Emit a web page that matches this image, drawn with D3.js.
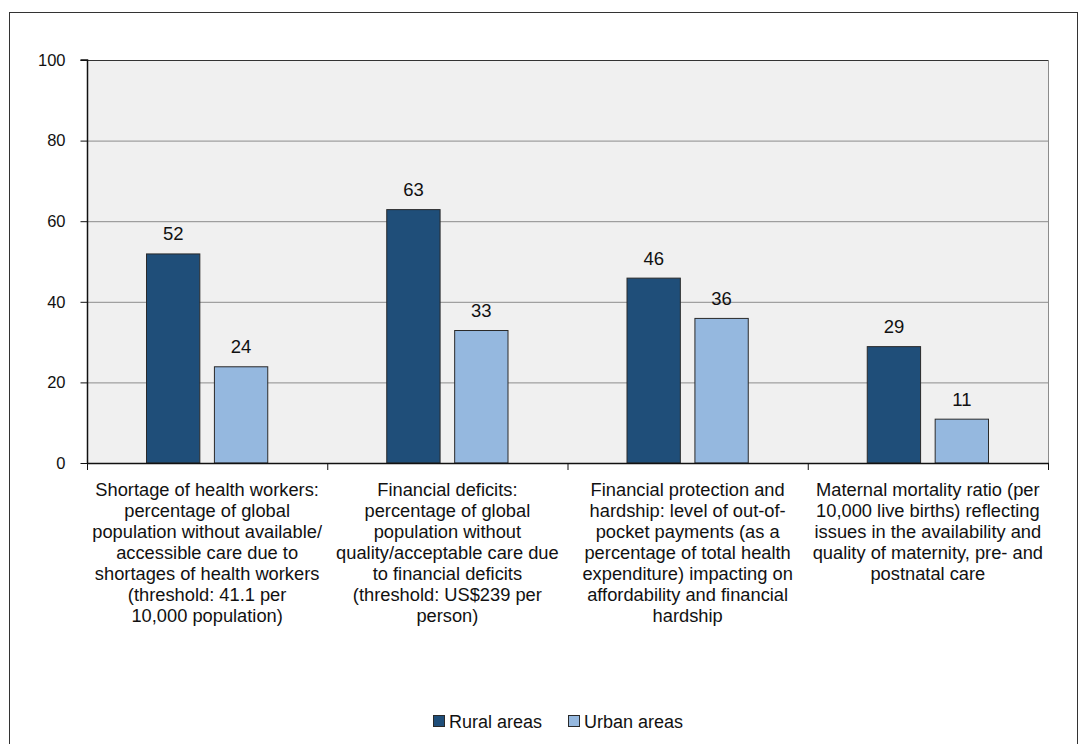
<!DOCTYPE html>
<html><head><meta charset="utf-8">
<script src="https://cdn.jsdelivr.net/npm/d3@7"></script>
<style>body{margin:0;background:#fff;}svg{display:block;font-family:"Liberation Sans",Arial,sans-serif;}</style>
</head><body>
<svg id="c" width="1088" height="744"></svg>
<script>
const categories = [
  ["Shortage of health workers:","percentage of global","population without available/","accessible care due to","shortages of health workers","(threshold: 41.1 per","10,000 population)"],
  ["Financial deficits:","percentage of global","population without","quality/acceptable care due","to financial deficits","(threshold: US$239 per","person)"],
  ["Financial protection and","hardship: level of out-of-","pocket payments (as a","percentage of total health","expenditure) impacting on","affordability and financial","hardship"],
  ["Maternal mortality ratio (per","10,000 live births) reflecting","issues in the availability and","quality of maternity, pre- and","postnatal care"]
];
const seriesNames = ["Rural areas","Urban areas"];
const rural = [52, 63, 46, 29];
const urban = [24, 33, 36, 11];
const yTicks = [0, 20, 40, 60, 80, 100];
const colors = ["#1f4e79", "#95b8df"];

const svg = d3.select("#c");
svg.append("rect").attr("x",9.5).attr("y",12.5).attr("width",1068).attr("height",740)
  .attr("fill","#fff").attr("stroke","#333").attr("stroke-width",1);

const L=87, R=1048, T=60, B=463;
const x = d3.scaleBand().domain(d3.range(categories.length)).range([L,R]).paddingInner(0).paddingOuter(0);
const x1 = d3.scaleBand().domain([0,1]).range([59, x.bandwidth()-59]).paddingInner(0.2);
const y = d3.scaleLinear().domain([0,100]).range([B,T]);

svg.append("rect").attr("x",L).attr("y",T).attr("width",R-L).attr("height",B-T).attr("fill","#f0f0f0");
svg.append("g").selectAll("line").data(yTicks.filter(d=>d>0 && d<100)).join("line")
  .attr("x1",L).attr("x2",R).attr("y1",d=>y(d)+0.5).attr("y2",d=>y(d)+0.5)
  .attr("stroke","#8c8c8c").attr("stroke-width",1);
svg.append("line").attr("x1",L).attr("x2",R).attr("y1",T+0.5).attr("y2",T+0.5).attr("stroke","#333");
svg.append("line").attr("x1",R+0.5).attr("x2",R+0.5).attr("y1",T).attr("y2",B).attr("stroke","#8c8c8c");

const data = categories.map((c,i)=>[rural[i],urban[i]]);
const g = svg.append("g");
data.forEach((vals,i)=>{
  vals.forEach((v,s)=>{
    g.append("rect").attr("x",x(i)+x1(s)+0.5).attr("y",y(v)+0.5)
      .attr("width",x1.bandwidth()-1).attr("height",B-y(v)-0.5)
      .attr("fill",colors[s]).attr("stroke","#2a2a2a").attr("stroke-width",1);
    g.append("text").attr("x",x(i)+x1(s)+x1.bandwidth()/2).attr("y",y(v)-13)
      .attr("text-anchor","middle").attr("font-size",18.5).attr("fill","#111").text(v);
  });
});

const yAxis = d3.axisLeft(y).tickValues(yTicks).tickSize(7).tickPadding(15);
const ya = svg.append("g").attr("transform",`translate(${L+0.5},0)`).call(yAxis);
ya.select(".domain").attr("stroke","#111").attr("stroke-width",1.5).attr("d",`M-7,${T}H0V${B}`);
ya.selectAll(".tick line").attr("stroke","#111");
ya.selectAll("text").attr("font-size",16.5).attr("fill","#111").attr("font-family","Liberation Sans, Arial, sans-serif");

svg.append("line").attr("x1",L).attr("x2",R+1).attr("y1",B+0.5).attr("y2",B+0.5).attr("stroke","#111").attr("stroke-width",1.5);
svg.append("g").selectAll("line").data(d3.range(categories.length+1)).join("line")
  .attr("x1",i=>(i<categories.length?x(i):R)+0.5).attr("x2",i=>(i<categories.length?x(i):R)+0.5)
  .attr("y1",B).attr("y2",B+7).attr("stroke","#111");

categories.forEach((lines,i)=>{
  const t = svg.append("text").attr("text-anchor","middle").attr("font-size",18.3).attr("fill","#111");
  lines.forEach((ln,k)=>{
    t.append("tspan").attr("x",x(i)+x.bandwidth()/2).attr("y",496+k*21).text(ln);
  });
});

const leg = [{x:433, tx:449},{x:568, tx:584}];
seriesNames.forEach((n,s)=>{
  svg.append("rect").attr("x",leg[s].x+0.5).attr("y",715.5).attr("width",11).attr("height",11)
    .attr("fill",colors[s]).attr("stroke","#2a2a2a");
  svg.append("text").attr("x",leg[s].tx).attr("y",727.5).attr("font-size",18).attr("fill","#111").text(n);
});
</script>
</body></html>
